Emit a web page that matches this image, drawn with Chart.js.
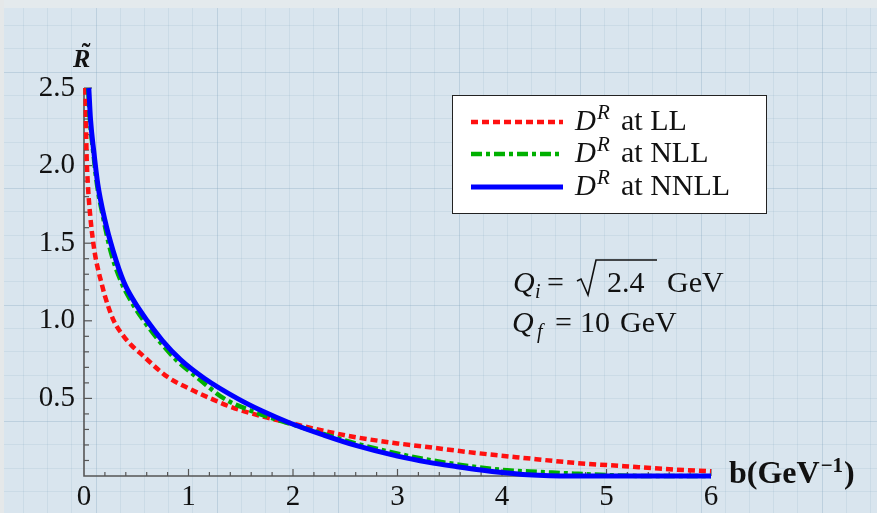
<!DOCTYPE html>
<html>
<head>
<meta charset="utf-8">
<script src="https://cdn.jsdelivr.net/npm/chart.js@4.4.1/dist/chart.umd.min.js"></script>
<style>
  html, body { margin: 0; padding: 0; background: #d9e5ee; }
  #wrap { width: 877px; height: 513px; }
</style>
</head>
<body>
<div id="wrap"><canvas id="c" width="877" height="513"></canvas></div>
<script>
// b in GeV^-1, values of R~
const llB = [0.014, 0.024, 0.037, 0.062, 0.10, 0.142, 0.165, 0.20, 0.285, 0.38, 0.45, 0.54, 0.796, 1.0, 1.21, 1.402, 1.70, 1.98, 2.30, 2.60, 3.0, 3.25, 3.73, 4.2, 4.69, 5.17, 5.64, 6.0];
const llR = [2.50, 2.09, 1.88, 1.66, 1.45, 1.31, 1.25, 1.16, 1.00, 0.90, 0.845, 0.79, 0.64, 0.565, 0.50, 0.446, 0.385, 0.34, 0.29, 0.25, 0.21, 0.19, 0.15, 0.117, 0.085, 0.063, 0.042, 0.03];

const nllB = [0.040, 0.056, 0.088, 0.124, 0.185, 0.254, 0.356, 0.46, 0.572, 0.72, 0.88, 1.10, 1.338, 1.60, 1.98, 2.30, 2.60, 2.93, 3.25, 3.73, 4.05, 4.37, 4.69, 5.0, 5.4, 6.0];
const nllR = [2.50, 2.30, 2.09, 1.88, 1.66, 1.45, 1.25, 1.115, 1.00, 0.87, 0.75, 0.625, 0.50, 0.42, 0.335, 0.27, 0.21, 0.155, 0.11, 0.06, 0.037, 0.026, 0.015, 0.006, 0.0, 0.0];

const nnllB = [0.046, 0.062, 0.094, 0.132, 0.196, 0.279, 0.381, 0.48, 0.605, 0.75, 0.923, 1.15, 1.466, 1.70, 1.976, 2.30, 2.60, 3.0, 3.3, 3.57, 3.8, 4.0, 4.2, 4.4, 4.6, 5.0, 6.0];
const nnllR = [2.50, 2.30, 2.09, 1.88, 1.66, 1.45, 1.25, 1.125, 1.00, 0.873, 0.75, 0.63, 0.50, 0.42, 0.34, 0.262, 0.197, 0.128, 0.088, 0.06, 0.038, 0.022, 0.01, 0.003, 0.0, 0.0, 0.0];

const orders = ['LL', 'NLL', 'NNLL'];
const xMin = 0, xMax = 6, xStep = 1;
const yMin = 0, yMax = 2.5, yStep = 0.5;

const serif = '"Liberation Serif", "Times New Roman", serif';

function pts(bs, rs) {
  return bs.map((b, i) => ({ x: b, y: rs[i] }));
}

const bgPlugin = {
  id: 'paper',
  beforeDraw(chart) {
    const ctx = chart.ctx, w = chart.width, h = chart.height;
    ctx.save();
    ctx.fillStyle = '#d9e5ee';
    ctx.fillRect(0, 0, w, h);
    ctx.lineWidth = 1;
    let i = 0;
    for (let x = 23; x < w; x += 24.2, i++) {
      ctx.strokeStyle = i % 5 === 3 ? 'rgba(130,165,190,0.32)' : 'rgba(130,165,190,0.16)';
      ctx.beginPath(); ctx.moveTo(Math.round(x) + 0.5, 0); ctx.lineTo(Math.round(x) + 0.5, h); ctx.stroke();
    }
    i = 0;
    for (let y = 25; y < h; y += 23.3, i++) {
      ctx.strokeStyle = i % 5 === 2 ? 'rgba(130,165,190,0.32)' : 'rgba(130,165,190,0.16)';
      ctx.beginPath(); ctx.moveTo(0, Math.round(y) + 0.5); ctx.lineTo(w, Math.round(y) + 0.5); ctx.stroke();
    }
    ctx.fillStyle = '#e4eaed';
    ctx.fillRect(0, 0, w, 8);
    ctx.fillStyle = '#e5e8e9';
    ctx.fillRect(0, 0, 4, h);
    ctx.restore();
  }
};

// Mathematica-style axes with inward ticks
const axesPlugin = {
  id: 'axesIn',
  beforeDatasetsDraw(chart) {
    const { ctx, scales: { x, y } } = chart;
    const x0 = x.getPixelForValue(xMin), y0 = y.getPixelForValue(yMin);
    ctx.save();
    ctx.strokeStyle = '#555';
    ctx.lineWidth = 1.6;
    ctx.beginPath();
    ctx.moveTo(x0, y.getPixelForValue(yMax));
    ctx.lineTo(x0, y0);
    ctx.lineTo(x.getPixelForValue(xMax), y0);
    ctx.stroke();
    ctx.lineWidth = 1.2;
    for (let k = 1; k <= 25; k++) {
      const yy = y.getPixelForValue(k / 10);
      const len = k % 5 === 0 ? 8 : 5;
      ctx.beginPath(); ctx.moveTo(x0, yy); ctx.lineTo(x0 + len, yy); ctx.stroke();
    }
    for (let k = 1; k <= 30; k++) {
      const xx = x.getPixelForValue(k / 5);
      const len = k % 5 === 0 ? 7 : 4;
      ctx.beginPath(); ctx.moveTo(xx, y0); ctx.lineTo(xx, y0 - len); ctx.stroke();
    }
    ctx.restore();
  }
};

const overlayPlugin = {
  id: 'overlay',
  afterDraw(chart) {
    const ctx = chart.ctx;
    ctx.save();
    ctx.textAlign = 'left';
    ctx.textBaseline = 'alphabetic';

    // legend
    ctx.fillStyle = '#fff';
    ctx.fillRect(452, 95, 314, 118);
    ctx.strokeStyle = '#222';
    ctx.lineWidth = 1;
    ctx.strokeRect(452.5, 95.5, 314, 118);
    const rows = [122, 154, 187];
    chart.data.datasets.forEach((ds, i) => {
      const yy = rows[i];
      ctx.strokeStyle = ds.borderColor;
      ctx.lineWidth = ds.borderWidth;
      ctx.setLineDash(ds.borderDash || []);
      ctx.beginPath(); ctx.moveTo(471, yy); ctx.lineTo(563, yy); ctx.stroke();
      ctx.setLineDash([]);
      ctx.fillStyle = '#111';
      ctx.font = 'italic 29px ' + serif;
      ctx.fillText('D', 575, yy + 8);
      const dw = ctx.measureText('D').width;
      ctx.font = 'italic 21px ' + serif;
      ctx.fillText('R', 575 + dw + 1, yy - 3);
      ctx.font = '30px ' + serif;
      ctx.fillText('at ' + orders[i], 621, yy + 8);
    });

    // scales annotation
    ctx.fillStyle = '#111';
    ctx.font = 'italic 30px ' + serif;
    ctx.fillText('Q', 513, 292);
    ctx.font = 'italic 20px ' + serif;
    ctx.fillText('i', 535, 298);
    ctx.font = '30px ' + serif;
    ctx.fillText('=', 547, 292);
    ctx.fillText('2.4', 607, 292);
    ctx.fillText('GeV', 667, 292);
    ctx.strokeStyle = '#111';
    ctx.lineWidth = 1.6;
    ctx.lineJoin = 'miter';
    ctx.beginPath();
    ctx.moveTo(577, 281); ctx.lineTo(581, 279); ctx.lineTo(588, 295);
    ctx.lineTo(596, 260); ctx.lineTo(657, 260);
    ctx.stroke();

    ctx.font = 'italic 30px ' + serif;
    ctx.fillText('Q', 512, 332);
    ctx.font = 'italic 20px ' + serif;
    ctx.fillText('f', 537, 338);
    ctx.font = '30px ' + serif;
    ctx.fillText('=', 555, 332);
    ctx.fillText('10', 580, 332);
    ctx.fillText('GeV', 620, 332);

    // y axis title R~
    ctx.font = 'bold italic 26px ' + serif;
    ctx.fillText('R', 73, 67);
    ctx.textAlign = 'center';
    ctx.font = 'bold 26px ' + serif;
    ctx.fillText('\u02DC', 86, 61);

    // x axis title
    ctx.textAlign = 'left';
    ctx.font = 'bold 32px ' + serif;
    ctx.fillText('b(GeV', 729, 483);
    let xw = 729 + ctx.measureText('b(GeV').width;
    ctx.font = 'bold 21px ' + serif;
    ctx.fillText('\u22121', xw + 1, 472);
    xw += 1 + ctx.measureText('\u22121').width + 1;
    ctx.font = 'bold 32px ' + serif;
    ctx.fillText(')', xw, 483);
    ctx.restore();
  }
};

new Chart(document.getElementById('c'), {
  type: 'line',
  data: {
    datasets: [
      { label: 'D^R at LL', data: pts(llB, llR), borderColor: '#ff1010', borderWidth: 4.5, borderDash: [7, 4], order: 3 },
      { label: 'D^R at NLL', data: pts(nllB, nllR), borderColor: '#00b000', borderWidth: 4.5, borderDash: [11, 4, 4, 4], order: 2 },
      { label: 'D^R at NNLL', data: pts(nnllB, nnllR), borderColor: '#0000ff', borderWidth: 5, order: 1 }
    ]
  },
  options: {
    responsive: false,
    animation: false,
    devicePixelRatio: 1,
    layout: { padding: { top: 88, right: 166, left: 0, bottom: 0 } },
    elements: {
      point: { radius: 0 },
      line: { cubicInterpolationMode: 'monotone', fill: false, borderJoinStyle: 'round' }
    },
    datasets: { line: { clip: false } },
    plugins: { legend: { display: false }, tooltip: { enabled: false } },
    scales: {
      x: {
        type: 'linear', min: xMin, max: xMax,
        grid: { display: false, drawTicks: false }, border: { display: false },
        ticks: {
          stepSize: xStep, padding: 4, maxRotation: 0, color: '#111',
          font: { family: serif, size: 29 },
          callback: v => String(v)
        },
        afterFit: s => { s.height = 37; }
      },
      y: {
        type: 'linear', min: yMin, max: yMax,
        grid: { display: false, drawTicks: false }, border: { display: false },
        ticks: {
          stepSize: yStep, padding: 9, color: '#111',
          font: { family: serif, size: 29 },
          callback: v => (v === 0 ? '' : v.toFixed(1))
        },
        afterFit: s => { s.width = 84; }
      }
    }
  },
  plugins: [bgPlugin, axesPlugin, overlayPlugin]
});
</script>
</body>
</html>
